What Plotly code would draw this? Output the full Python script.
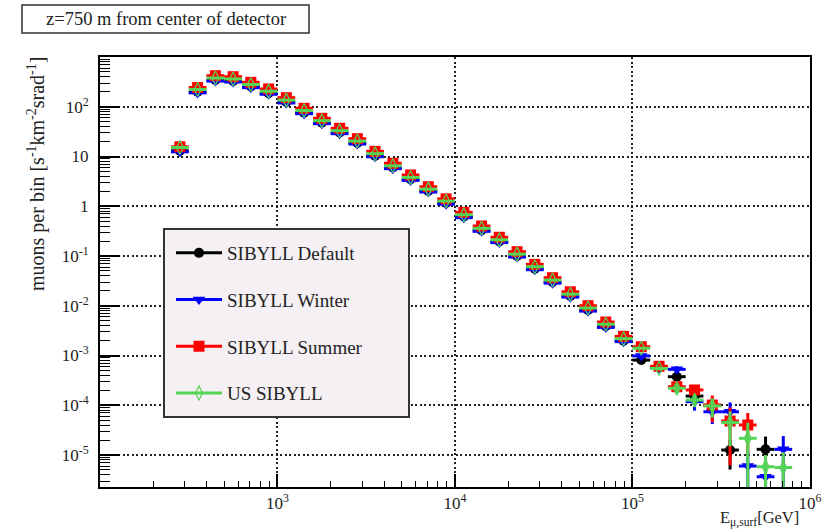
import numpy as np
import plotly.graph_objects as go

# Muon energy binning at the surface: 0.1-decade bins in log10(E/GeV)
log_edges = np.linspace(2.4, 5.9, 36)
log_centers = 0.5 * (log_edges[:-1] + log_edges[1:])
energy = 10 ** log_centers
e_lo = 10 ** log_edges[:-1]
e_hi = 10 ** log_edges[1:]

# muons per bin [s^-1 km^-2 srad^-1]
sibyll_default = [13.0, 200, 345, 330, 255, 188, 125, 76, 48.0, 30.3, 18.7, 10.4, 6.0, 3.48,
                  2.03, 1.16, 0.62, 0.330, 0.195, 0.100, 0.0558, 0.0300, 0.0157, 0.0082,
                  0.00386, 0.00199, 8.1e-4, 5.8e-4, 3.75e-4, 1.53e-4, 1.0e-4, 1.26e-5,
                  None, 1.30e-5, None]
sibyll_winter = [12.4, 190, 328, 314, 242, 178, 119, 72.5, 45.7, 28.8, 17.8, 9.9, 5.7, 3.31,
                 1.93, 1.10, 0.589, 0.313, 0.186, 0.095, 0.0530, 0.0285, 0.0149, 0.0078,
                 0.00367, 0.00190, 9.8e-4, 5.6e-4, 5.28e-4, 1.18e-4, 7.4e-5, 7.4e-5,
                 6.0e-6, 3.66e-6, 1.30e-5]
sibyll_summer = [15.7, 244, 421, 402, 310, 228, 152, 93, 58.6, 36.9, 22.8, 12.7, 7.3, 4.25,
                 2.47, 1.41, 0.755, 0.401, 0.238, 0.122, 0.068, 0.0366, 0.0191, 0.0100,
                 0.00471, 0.00243, 1.50e-3, 6.07e-4, 2.36e-4, 2.03e-4, 1.01e-4, 4.82e-5,
                 4.01e-5, None, None]
us_sibyll = [15.2, 222, 378, 362, 280, 205, 136, 84, 52.5, 33.0, 20.4, 11.4, 6.5, 3.80,
             2.21, 1.27, 0.676, 0.360, 0.212, 0.109, 0.0610, 0.0328, 0.0171, 0.0090,
             0.00425, 0.00218, 1.40e-3, 5.50e-4, 2.20e-4, 1.27e-4, 9.7e-5, 4.50e-5,
             2.17e-5, 5.82e-6, 5.6e-6]

# statistical uncertainties (only the high-energy tail is resolvable)
_bulk = [0] * 27
err_default = _bulk + [6e-5, 7e-5, 5e-5, 4e-5, 7.5e-6, 0, 1.05e-5, 0]
err_winter = _bulk + [6e-5, 8e-5, 4e-5, 3.2e-5, 4e-5, 6.5e-6, 4e-6, 1.1e-5]
err_summer = _bulk + [5e-5, 6e-5, 5e-5, 5.6e-5, 4.2e-5, 3.0e-5, 0, 0]
err_us = _bulk + [5e-5, 5e-5, 3.5e-5, 4e-5, 3e-5, 2.3e-5, 4.2e-6, 5.8e-6]

series = [
    ("SIBYLL Default", sibyll_default, err_default, "#000000", "circle", 10),
    ("SIBYLL Winter", sibyll_winter, err_winter, "#0000ff", "triangle-down", 11),
    ("SIBYLL Summer", sibyll_summer, err_summer, "#ff0000", "square", 11),
    ("US SIBYLL", us_sibyll, err_us, "#55d455", "diamond-tall-open", 10),
]

SERIF = "Liberation Serif, Times New Roman, Times, serif"

fig = go.Figure()
for name, vals, errs, color, symbol, size in series:
    marker = dict(symbol=symbol, size=size, color=color,
                  line=dict(color=color, width=1.2 if symbol.endswith("open") else 0))
    fig.add_trace(go.Scatter(
        x=energy, y=vals, mode="markers", name=name, showlegend=False,
        marker=marker,
        error_x=dict(type="data", symmetric=False, array=e_hi - energy,
                     arrayminus=energy - e_lo, color=color, thickness=3, width=0),
        error_y=dict(type="data", array=errs, color=color, thickness=3, width=0),
    ))

# legend entries: line + marker, ROOT style
for i, (name, vals, errs, color, symbol, size) in enumerate(series):
    fig.add_trace(go.Scatter(
        x=[None], y=[None], mode="lines+markers", name=name, legendgroup=f"g{i}",
        line=dict(color=color, width=3),
        marker=dict(symbol=symbol, size=size, color=color,
                    line=dict(color=color, width=1.2 if symbol.endswith("open") else 0)),
    ))

L, R, T, B = 100, 25, 57, 45
W, H = 835, 532
PW, PH = W - L - R, H - T - B


def px(xp):
    return (xp - L) / PW


def py(yp):
    return (H - B - yp) / PH


grid_common = dict(showgrid=True, gridcolor="#222222", gridwidth=1.5, griddash="2px,2.5px")

fig.update_xaxes(
    type="log", range=[2, 6.0005], showline=True, linecolor="black", linewidth=2, mirror=True,
    ticks="inside", ticklen=13, tickwidth=1.5, tickcolor="black",
    tickvals=[1e3, 1e4, 1e5, 1e6],
    ticktext=["10<sup>3</sup>", "10<sup>4</sup>", "10<sup>5</sup>", "10<sup>6</sup>"],
    tickfont=dict(family=SERIF, size=17, color="#222"),
    minor=dict(ticks="inside", ticklen=6, tickwidth=1.2, tickcolor="black", dtick="D1",
               showgrid=False),
    zeroline=False, **grid_common,
)
fig.update_yaxes(
    type="log", range=[-5.643, 3], showline=True, linecolor="black", linewidth=2, mirror=True,
    ticks="inside", ticklen=20, tickwidth=1.5, tickcolor="black",
    tickvals=[1e2, 1e1, 1, 1e-1, 1e-2, 1e-3, 1e-4, 1e-5],
    ticktext=["10<sup>2</sup>", "10", "1", "10<sup>-1</sup>", "10<sup>-2</sup>",
              "10<sup>-3</sup>", "10<sup>-4</sup>", "10<sup>-5</sup>"],
    tickfont=dict(family=SERIF, size=17, color="#222"),
    ticklabelstandoff=6,
    minor=dict(ticks="inside", ticklen=10, tickwidth=1.2, tickcolor="black", dtick="D1",
               showgrid=False),
    zeroline=False, **grid_common,
)

fig.update_layout(
    width=W, height=H,
    margin=dict(l=L, r=R, t=T, b=B),
    paper_bgcolor="white", plot_bgcolor="white",
    font=dict(family=SERIF, size=17, color="#222"),
    showlegend=True,
    legend=dict(x=px(171), y=py(234), xanchor="left", yanchor="top",
                bgcolor="rgba(0,0,0,0)", borderwidth=0,
                font=dict(family=SERIF, size=19, color="#222"),
                tracegroupgap=19, itemsizing="trace", itemwidth=46),
    shapes=[
        # legend frame
        dict(type="rect", xref="paper", yref="paper", x0=px(164), x1=px(409),
             y0=py(417), y1=py(229), fillcolor="#f4f0f4",
             line=dict(color="#333", width=2), layer="above"),
        # title box
        dict(type="rect", xref="paper", yref="paper", x0=px(22), x1=px(309),
             y0=py(33), y1=py(5), fillcolor="white",
             line=dict(color="#333", width=1.5), layer="above"),
    ],
    annotations=[
        dict(text="z=750 m from center of detector", xref="paper", yref="paper",
             x=px(165.5), y=py(19), xanchor="center", yanchor="middle", showarrow=False,
             font=dict(family=SERIF, size=18.5, color="#222")),
        dict(text="muons per bin [s<sup>-1</sup>km<sup>-2</sup>srad<sup>-1</sup>]",
             xref="paper", yref="paper", x=px(37), y=py(55), xanchor="center",
             yanchor="top", textangle=-90, showarrow=False,
             font=dict(family=SERIF, size=20, color="#222")),
        dict(text="E<sub>μ,surf</sub>[GeV]", xref="paper", yref="paper",
             x=px(801), y=py(518), xanchor="right", yanchor="middle", showarrow=False,
             font=dict(family=SERIF, size=16.5, color="#222")),
    ],
)

fig.write_html("out.html")
